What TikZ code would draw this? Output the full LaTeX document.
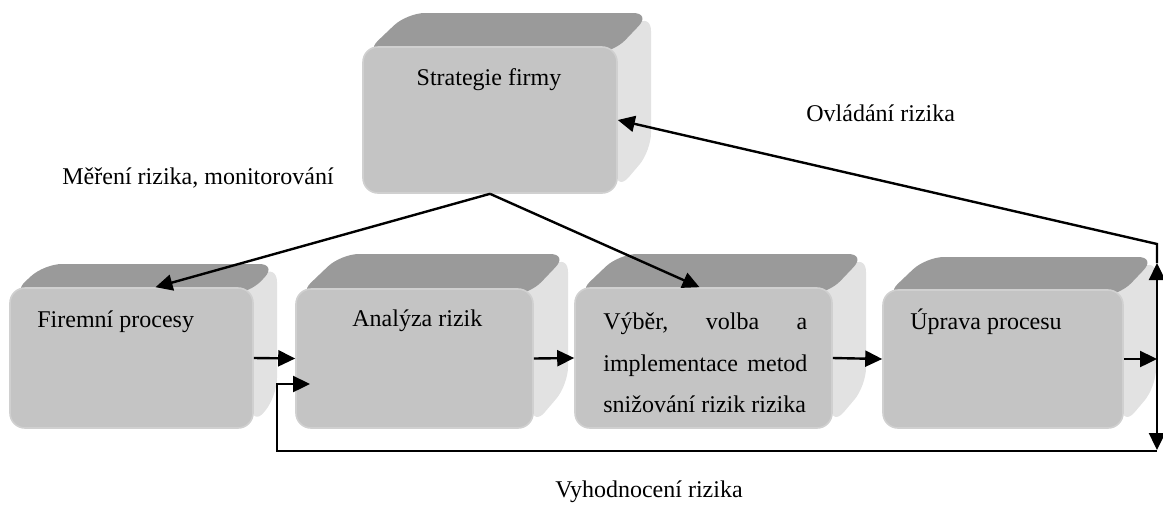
\documentclass[tikz,border=0pt]{standalone}
\usepackage{fontspec}
\setmainfont{Liberation Serif}
\usepackage{tikz}
\usetikzlibrary{arrows.meta, fit, positioning}
\definecolor{frontgray}{HTML}{C4C4C4}
\definecolor{topgray}{HTML}{9A9A9A}
\definecolor{sidegray}{HTML}{E2E2E2}
\definecolor{rimgray}{HTML}{D0D0D0}
\pgfdeclarehorizontalshading{topshade}{100bp}{color(0bp)=(topgray); color(80bp)=(topgray); color(100bp)=(sidegray)}
\tikzset{
  front/.style={draw=rimgray, line width=0.8pt, fill=frontgray, rounded corners=7.5pt, inner sep=0pt},
  sideface/.style={fill=sidegray, rounded corners=9pt},
  topface/.style={shading=topshade, rounded corners=9pt},
  txt/.style={font=\fontsize{12}{14}\selectfont, inner sep=0pt},
  arr/.style={line width=1.2pt, -{Triangle[length=8.5pt, width=8pt]}},
}
% box with top and side face: name, x0, y0, x1, y1, depth
\newcommand{\cubebox}[6]{
  \fill[sideface] ({#4-10},#3) -- ({#4+#6},{#3-#6}) -- ({#4+#6},{#5-#6-8}) -- (#4,{#5-2}) -- cycle;
  \shade[topface] ({#2+2},{#3+6}) -- ({#2+#6+10},{#3-#6}) -- ({#4+#6},{#3-#6}) -- ({#4-4},{#3+6}) -- cycle;
  \node[front, fit={(#2,#3) (#4,#5)}] (#1) {};
}

\begin{document}
\begin{tikzpicture}[x=0.5pt, y=-0.5pt]
    \useasboundingbox (0,0) rectangle (1163,505);

    % boxes
    \cubebox{strat}{363}{47}{617}{193}{34}
    \cubebox{firm}{10}{288}{253}{428}{24}
    \cubebox{anal}{296}{289}{533}{428}{35}
    \cubebox{vyber}{575}{288}{832}{428}{34}
    \cubebox{uprava}{883}{290}{1123}{428}{33}

    % texts in the boxes
    \node[txt] (strattxt) at (489,80) {Strategie firmy};
    \node[txt, anchor=west] (firmtxt) at (37,322) {Firemní procesy};
    \node[txt, anchor=west] (analtxt) at (352,321) {Analýza rizik};
    \node[txt, anchor=west, align=left, font=\fontsize{12}{20.7}\selectfont] (vybertxt) at (603,363)
        {\makebox[102pt][l]{Výběr,\hfill volba\hfill a}\\\makebox[102pt][l]{implementace\hfill metod}\\snižování rizik rizika};
    \node[txt, anchor=west] (upravatxt) at (910,322) {Úprava procesu};

    % labels
    \node[txt, anchor=west] (merlbl) at (62,178) {Měření rizika, monitorování};
    \node[txt, anchor=west] (ovllbl) at (806,113) {Ovládání rizika};
    \node[txt, anchor=west] (vyhlbl) at (555,492) {Vyhodnocení rizika};

    \coordinate (rj) at (1157,359);
    \coordinate (uptip) at (1157,263);
    \coordinate (dntip) at (1157,450);
    \coordinate (rtop) at (1157,244);
    \coordinate (rbot) at (1157,451);
    \coordinate (fbleft) at (277,384);
    \coordinate (fbin) at (310,384);

    \draw[arr] (strat.south) -- ([xshift=12pt]firm.north);
    \draw[arr] (strat.south) -- ([xshift=-2pt]vyber.north);
    \draw[arr] (firm.east) -- (anal.west);
    \draw[arr] (anal.east) -- (vyber.west);
    \draw[arr] (vyber.east) -- (uprava.west);
    \draw[arr] (uprava.east) -- (rj);
    \draw[arr] (rj) -- (uptip);
    \draw[arr] (rj) -- (dntip);
    \draw[arr] (uptip) -- (rtop) -- (strat.east);
    \draw[arr] (rbot) -| (fbleft) -- (fbin);
\end{tikzpicture}
\end{document}
